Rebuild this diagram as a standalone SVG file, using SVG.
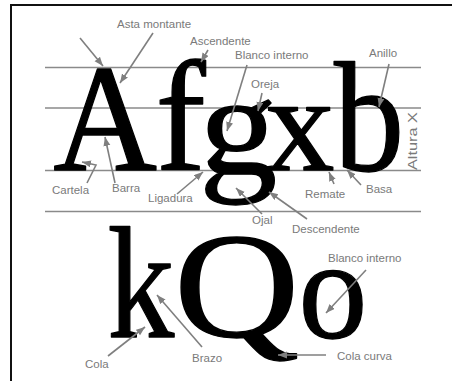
<svg xmlns="http://www.w3.org/2000/svg" width="452" height="381" viewBox="0 0 452 381">
<style>
.guide{stroke:#8a8a8a;stroke-width:1.6;fill:none}
.frame{stroke:#111;stroke-width:2;fill:none}
.glyph{font-family:"Liberation Serif","Times New Roman",serif;fill:#000;stroke:#000;stroke-width:1.3;stroke-linejoin:round}
.lbl{font-family:"Liberation Sans",Arial,sans-serif;font-size:11.5px;fill:#7a7a7a}
.arr{stroke:#7f7f7f;stroke-width:1.6;fill:none;marker-end:url(#ah)}
</style>
<defs>
<marker id="ah" markerUnits="userSpaceOnUse" markerWidth="10" markerHeight="8" refX="9" refY="3.5" orient="auto">
<path d="M0,0 L9,3.5 L0,7 z" fill="#7f7f7f"/>
</marker>
</defs>
<rect width="452" height="381" fill="#fff"/>
<g id="frame">
<path class="frame" d="M11,381 V5 H452"/>
</g>
<g id="guides">
<line class="guide" x1="45" y1="67.5" x2="421" y2="67.5"/>
<line class="guide" x1="45" y1="108" x2="421" y2="108"/>
<line class="guide" x1="45" y1="170.5" x2="421" y2="170.5"/>
<line class="guide" x1="45" y1="211.5" x2="421" y2="211.5"/>
</g>
<g id="letters">
<text id="A" class="glyph" font-size="152" transform="translate(53.3,169.5) scale(0.946,1)">A</text>
<text id="f" class="glyph" font-size="157" transform="translate(155.5,169.5) scale(0.96,1)">f</text>
<text id="g" class="glyph" font-size="145" transform="translate(199,174) scale(1.08,1)">g</text>
<text id="x" class="glyph" font-size="135" transform="translate(265,169.5) scale(1.03,1)">x</text>
<text id="b" class="glyph" font-size="156" transform="translate(334,169.5) scale(0.9,1)">b</text>
<text id="k" class="glyph" font-size="159" transform="translate(107.5,336.5) scale(0.84,1)">k</text>
<text id="Q" class="glyph" font-size="151" transform="translate(174,337) scale(1.15,1)">Q</text>
<text id="o" class="glyph" font-size="142" transform="translate(298.5,338) scale(0.97,1)">o</text>
</g>
<g id="connectors">
<line class="arr" x1="80" y1="38" x2="103" y2="66"/>
<line class="arr" x1="153" y1="33" x2="120" y2="83"/>
<line class="arr" x1="208" y1="50" x2="201" y2="62"/>
<line class="arr" x1="247" y1="65" x2="227" y2="131"/>
<line class="arr" x1="262" y1="93" x2="258" y2="111"/>
<line class="arr" x1="389" y1="64" x2="379" y2="107"/>
<polyline class="arr" points="87,183 96,165 82,162"/>
<line class="arr" x1="115" y1="183" x2="105" y2="137"/>
<line class="arr" x1="177" y1="194" x2="203" y2="172"/>
<line class="arr" x1="334" y1="184" x2="329" y2="172"/>
<line class="arr" x1="361" y1="185" x2="347" y2="170"/>
<line class="arr" x1="262" y1="214" x2="236" y2="188"/>
<line class="arr" x1="307" y1="219" x2="269" y2="192"/>
<line class="arr" x1="366" y1="270" x2="326" y2="313"/>
<line class="arr" x1="326" y1="355" x2="278" y2="355"/>
<line class="arr" x1="108" y1="356" x2="145" y2="327"/>
<line class="arr" x1="202" y1="347" x2="157" y2="295"/>
</g>
<g id="lbl-asta"><text class="lbl" x="117" y="28">Asta montante</text></g>
<g id="lbl-ascendente"><text class="lbl" x="190" y="45">Ascendente</text></g>
<g id="lbl-blanco1"><text class="lbl" x="235" y="59">Blanco interno</text></g>
<g id="lbl-oreja"><text class="lbl" x="251" y="88">Oreja</text></g>
<g id="lbl-anillo"><text class="lbl" x="369" y="57">Anillo</text></g>
<g id="lbl-altura"><text class="lbl" style="font-size:13px" transform="translate(417,170) rotate(-90)" textLength="58" lengthAdjust="spacingAndGlyphs">Altura X</text></g>
<g id="lbl-cartela"><text class="lbl" x="52" y="194">Cartela</text></g>
<g id="lbl-barra"><text class="lbl" x="112" y="192">Barra</text></g>
<g id="lbl-ligadura"><text class="lbl" x="148" y="202">Ligadura</text></g>
<g id="lbl-remate"><text class="lbl" x="305" y="198">Remate</text></g>
<g id="lbl-basa"><text class="lbl" x="366" y="193">Basa</text></g>
<g id="lbl-ojal"><text class="lbl" x="252" y="224">Ojal</text></g>
<g id="lbl-descendente"><text class="lbl" x="292" y="233">Descendente</text></g>
<g id="lbl-blanco2"><text class="lbl" x="328" y="262">Blanco interno</text></g>
<g id="lbl-colacurva"><text class="lbl" x="337" y="360">Cola curva</text></g>
<g id="lbl-cola"><text class="lbl" x="85" y="368">Cola</text></g>
<g id="lbl-brazo"><text class="lbl" x="192" y="362">Brazo</text></g>
</svg>
